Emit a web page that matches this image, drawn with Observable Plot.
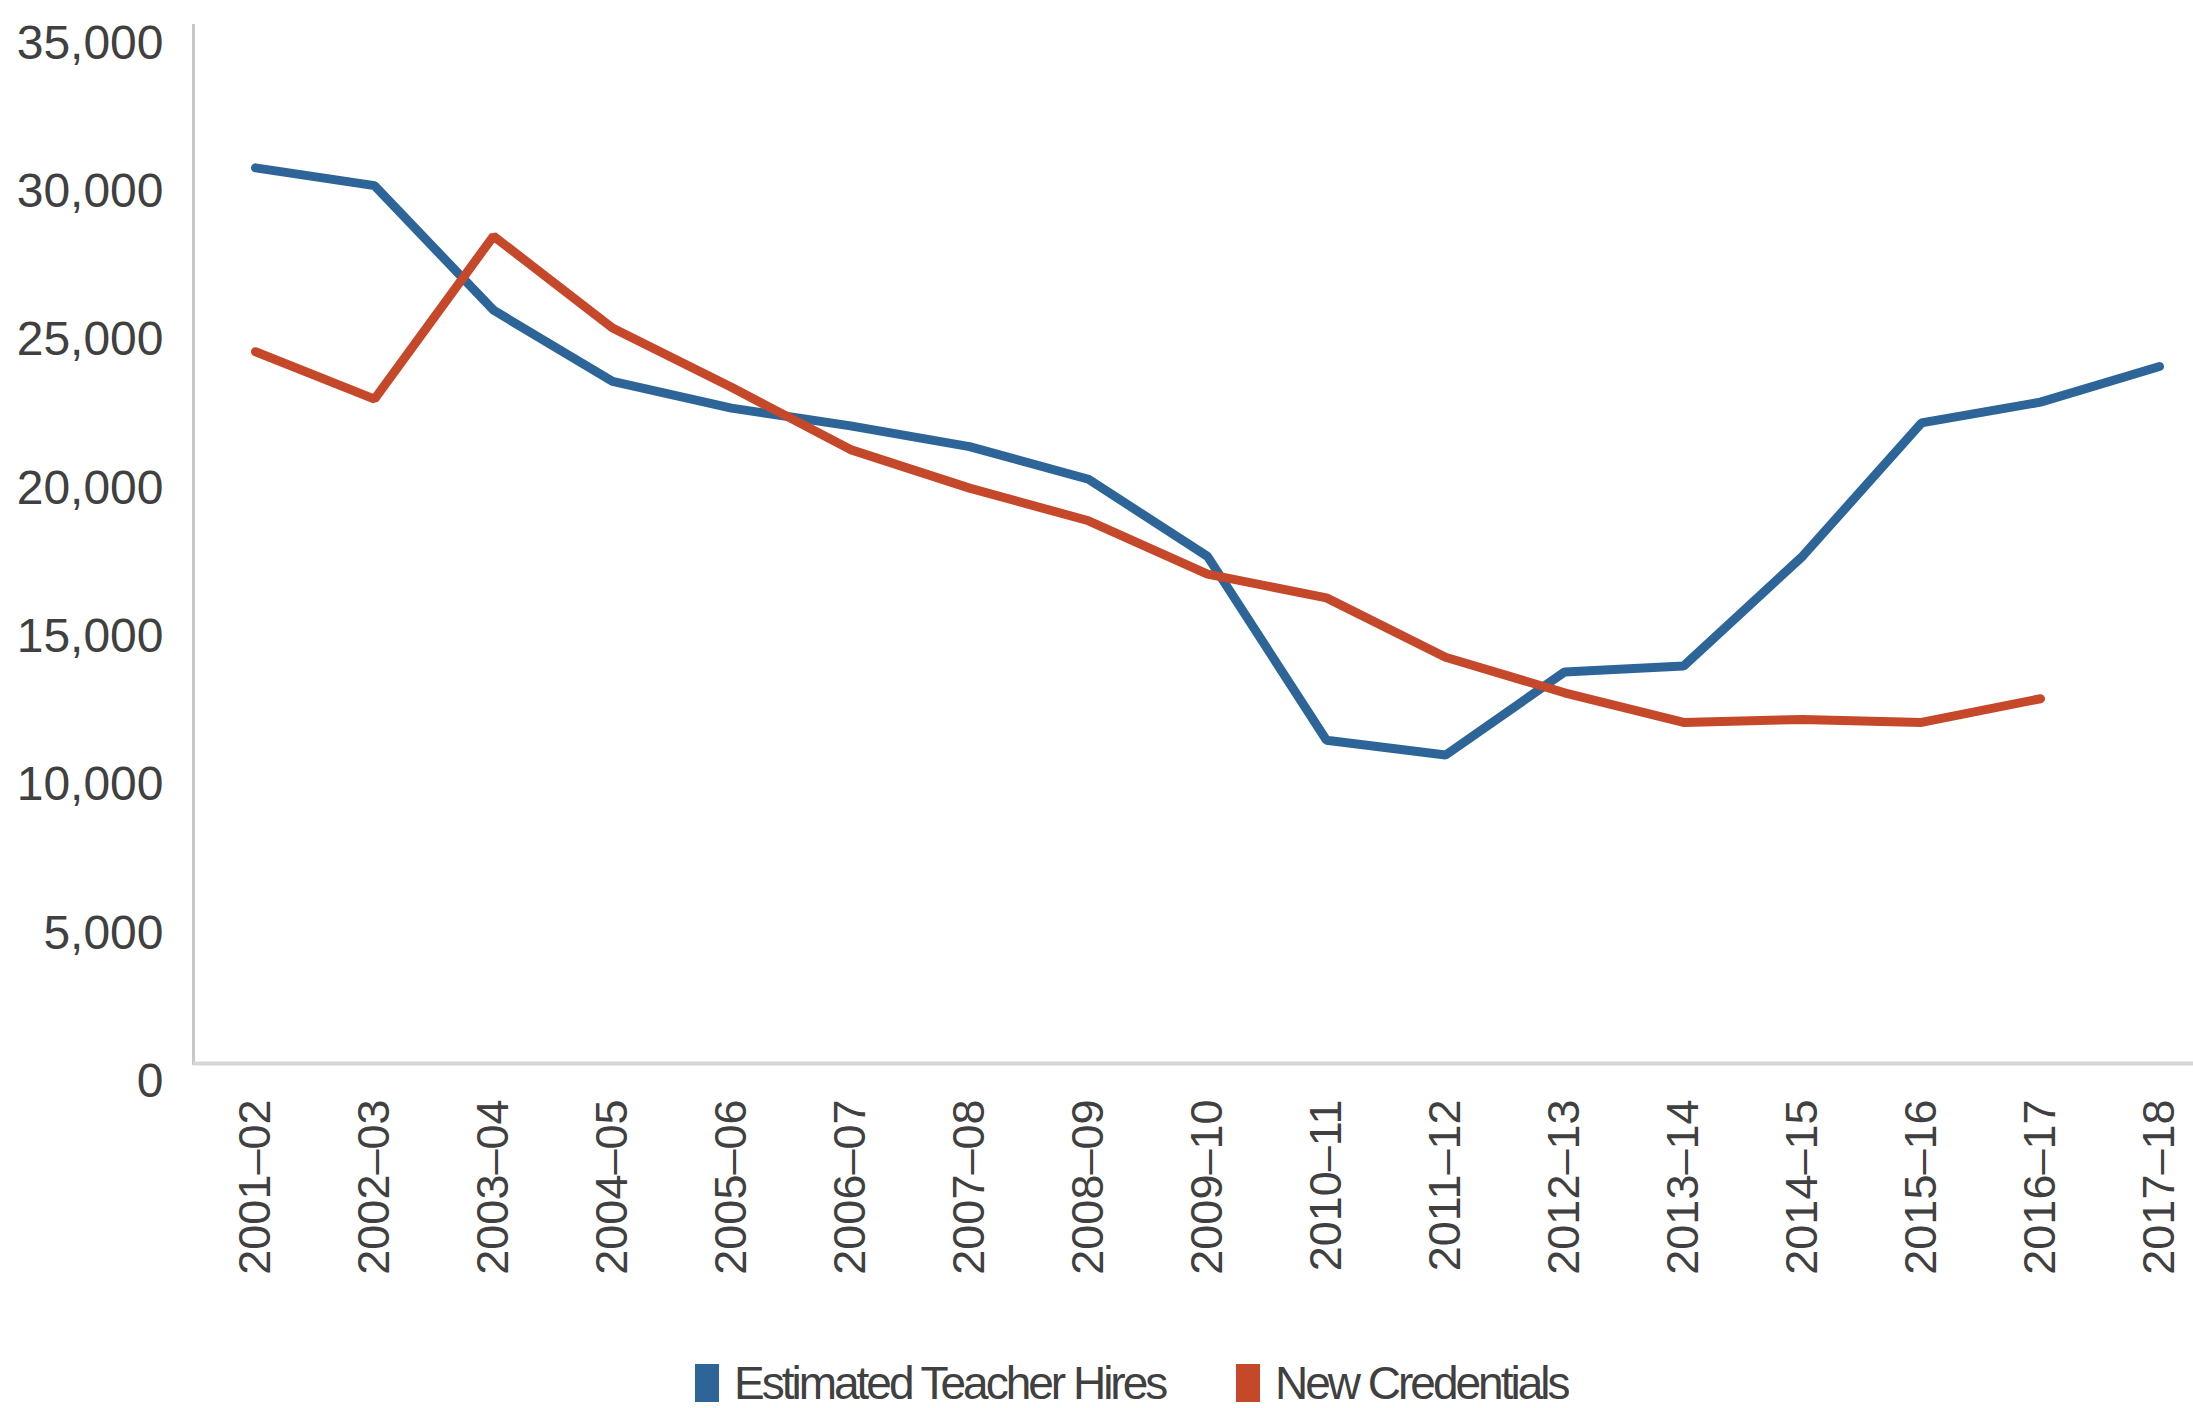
<!DOCTYPE html>
<html>
<head>
<meta charset="utf-8">
<script src="https://cdn.jsdelivr.net/npm/d3@7"></script>
<script src="https://cdn.jsdelivr.net/npm/@observablehq/plot@0.6"></script>
<style>
  html, body { margin: 0; padding: 0; background: #fff; overflow: hidden; }
  #chart svg { display: block; }
  #legend { position: relative; height: 56px; margin-top: 12px; font-family: "Liberation Sans", Arial, sans-serif; font-size: 46px; letter-spacing: -3px; color: #404040; }
  .item { position: absolute; top: 0; display: flex; align-items: center; height: 52px; white-space: nowrap; }
  .sw { width: 24px; height: 38px; margin-right: 15px; }
</style>
</head>
<body>
<div id="chart"></div>
<div id="legend"></div>
<script>
const years = ["2001–02","2002–03","2003–04","2004–05","2005–06","2006–07","2007–08","2008–09","2009–10","2010–11","2011–12","2012–13","2013–14","2014–15","2015–16","2016–17","2017–18"];
const hires = [30200, 29600, 25400, 23000, 22100, 21500, 20800, 19700, 17100, 10900, 10400, 13200, 13400, 17100, 21600, 22300, 23500];
const credentials = [24000, 22400, 27900, 24800, 22800, 20700, 19400, 18300, 16500, 15700, 13700, 12500, 11500, 11600, 11500, 12300];
const yTicks = [0, 5000, 10000, 15000, 20000, 25000, 30000, 35000];
const seriesNames = ["Estimated Teacher Hires", "New Credentials"];
const seriesColors = ["#2e6599", "#c5482a"];

const rows = [];
hires.forEach((v, i) => rows.push({year: years[i], value: v, series: seriesNames[0]}));
credentials.forEach((v, i) => rows.push({year: years[i], value: v, series: seriesNames[1]}));

const chart = Plot.plot({
  width: 2193,
  height: 1345,
  marginLeft: 193,
  marginRight: -28,
  marginTop: 25,
  marginBottom: 282,
  style: {background: "#fff", overflow: "visible"},
  x: {type: "point", domain: years, padding: 0.5},
  y: {domain: [0, 35000]},
  color: {domain: seriesNames, range: seriesColors},
  marks: [
    Plot.frame({anchor: "left", stroke: "#c8c8c8", strokeWidth: 3}),
    Plot.ruleY([0], {stroke: "#d6d6d6", strokeWidth: 4}),
    Plot.axisY({
      ticks: yTicks, tickSize: 0, tickPadding: 30, dy: 18,
      tickFormat: d3.format(","),
      fontSize: 48, fill: "#404040",
      fontFamily: "Liberation Sans, Arial, sans-serif",
      letterSpacing: "-2.5px",
      label: null
    }),
    Plot.axisX({
      tickSize: 0, tickRotate: -90, tickPadding: 36,
      fontSize: 45, fill: "#404040",
      fontFamily: "Liberation Sans, Arial, sans-serif",
      label: null
    }),
    Plot.line(rows, {x: "year", y: "value", stroke: "series", z: "series", strokeWidth: 9, strokeLinejoin: "miter", strokeLinecap: "round"})
  ]
});
document.getElementById("chart").appendChild(chart);

const legend = document.getElementById("legend");
const lefts = [695, 1236];
seriesNames.forEach((name, i) => {
  const item = document.createElement("div");
  item.className = "item";
  item.style.left = lefts[i] + "px";
  const sw = document.createElement("span");
  sw.className = "sw";
  sw.style.background = seriesColors[i];
  const t = document.createElement("span");
  t.textContent = name;
  item.appendChild(sw);
  item.appendChild(t);
  legend.appendChild(item);
});
</script>
</body>
</html>
